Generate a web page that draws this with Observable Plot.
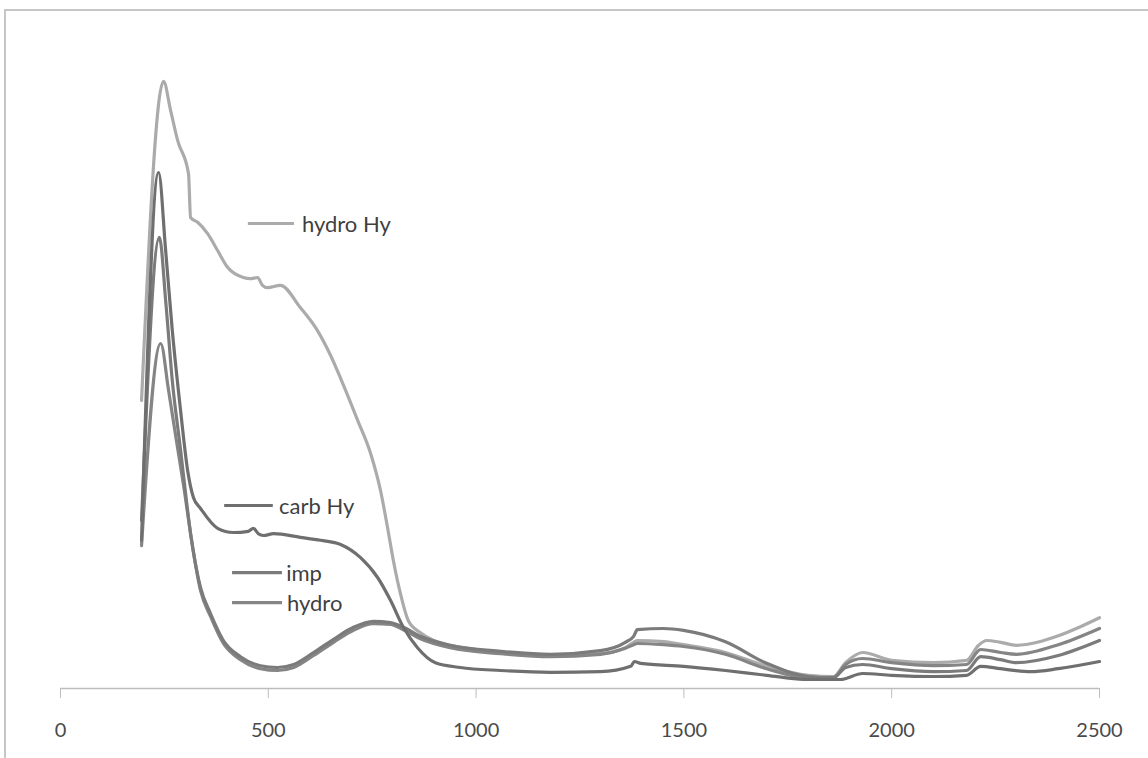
<!DOCTYPE html>
<html><head><meta charset="utf-8">
<script src="https://cdn.jsdelivr.net/npm/d3@7"></script>
<script src="https://cdn.jsdelivr.net/npm/@observablehq/plot@0.6"></script>
<style>
html,body{margin:0;padding:0;background:#fff;}
#wrap{position:relative;width:1148px;height:758px;overflow:hidden;background:#fff;}
#frame{position:absolute;left:4px;top:9px;width:1160px;height:770px;border-top:2px solid #c6c6c6;border-left:2px solid #c6c6c6;}
#chart{position:absolute;left:0;top:0;}
</style></head><body>
<div id="wrap"><div id="frame"></div><div id="chart"></div></div>
<script>
// Wavelength (nm) and reflectance values
const hydroHyWl = [195,248,265,282,308,313,330,354,378,402,440,457,474,486,498,529,577,618,650,674,715,746,770,787,801,818,837,866,898,979,1100,1179,1299,1359,1379,1388,1451,1499,1600,1699,1800,1860,1889,1930,2000,2100,2180,2209,2228,2262,2300,2401,2454,2500];
const hydroHyVal = [48.0,101.2,96.3,91.3,85.8,78.5,77.7,75.8,73.0,70.2,68.5,68.3,68.5,67.2,66.8,67.2,63.5,59.7,55.5,51.7,44.7,39.2,33.0,26.8,21.3,15.8,11.3,9.3,8.0,6.7,5.8,5.5,5.8,6.8,7.7,8.0,7.8,7.3,6.0,3.7,2.2,2.0,4.3,6.0,4.7,4.3,4.7,7.2,8.0,7.7,7.2,8.8,10.3,11.8];

const carbHyWl = [195,236,253,269,289,306,320,337,378,416,452,464,476,488,513,577,626,674,722,763,794,825,859,902,962,1059,1179,1299,1372,1381,1396,1499,1600,1699,1800,1877,1930,2000,2100,2180,2214,2262,2334,2401,2500];
const carbHyVal = [24.7,86.0,73.0,59.7,46.3,36.3,31.8,30.0,26.7,26.0,26.2,26.7,25.8,25.5,25.8,25.2,24.7,24.0,21.8,18.5,14.7,10.2,6.8,4.3,3.5,3.0,2.7,2.8,3.7,4.5,4.2,3.7,3.0,2.2,1.5,1.5,2.5,2.2,2.0,2.2,3.7,3.3,2.8,3.3,4.5];

const impWl = [195,238,253,269,289,303,313,337,361,392,433,481,522,561,609,657,705,753,794,825,866,938,1059,1179,1299,1359,1379,1388,1451,1499,1600,1699,1800,1860,1889,1930,2000,2100,2180,2214,2262,2300,2401,2500];
const impVal = [28.0,75.2,64.7,51.3,39.7,31.3,25.8,16.8,12.5,8.0,5.3,3.8,3.5,4.0,6.0,8.2,10.2,11.2,11.0,10.2,8.7,7.2,6.2,5.7,6.3,7.7,8.7,9.8,10.0,9.7,7.8,4.2,2.0,1.8,3.5,4.0,3.3,2.8,3.0,5.3,4.8,4.3,5.5,8.0];

const hydroWl = [195,241,260,279,298,313,337,361,392,433,481,522,561,609,657,705,753,794,825,866,938,1059,1179,1299,1359,1379,1388,1451,1499,1600,1699,1800,1860,1889,1930,2000,2100,2180,2214,2262,2300,2401,2500];
const hydroVal = [23.8,57.5,49.7,41.3,33.0,25.8,16.3,12.0,7.5,4.8,3.3,3.0,3.5,5.5,7.7,9.7,10.8,10.7,9.8,8.3,6.8,5.8,5.3,5.7,6.7,7.3,7.5,7.3,7.0,5.7,3.3,1.8,1.8,4.0,5.0,4.3,3.8,4.0,6.5,6.0,5.7,7.3,10.0];

const seriesNames = ["hydro Hy", "hydro", "imp", "carb Hy"];
const xTicks = [0, 500, 1000, 1500, 2000, 2500];

// Styling / annotation placement (kept separate from data)
const seriesColors = {"hydro Hy": "#ababab", "hydro": "#858585", "imp": "#7b7b7b", "carb Hy": "#6f6f6f"};
const labelAnchors = [
  {name: "hydro Hy", x1: 452, x2: 563, tx: 581, y: 77.5},
  {name: "carb Hy", x1: 395, x2: 512, tx: 526, y: 30.5},
  {name: "imp", x1: 414, x2: 534, tx: 543, y: 19.3},
  {name: "hydro", x1: 414, x2: 534, tx: 545, y: 14.3}
];

const sources = {
  "hydro Hy": [hydroHyWl, hydroHyVal],
  "hydro": [hydroWl, hydroVal],
  "imp": [impWl, impVal],
  "carb Hy": [carbHyWl, carbHyVal]
};
const rowsFor = name => sources[name][0].map((w, i) => ({name, wl: w, val: sources[name][1][i]}));

const chart = Plot.plot({
  width: 1148,
  height: 758,
  marginLeft: 60,
  marginRight: 49,
  marginTop: 28,
  marginBottom: 70,
  style: {fontFamily: "Lato, 'Open Sans', sans-serif", background: "transparent"},
  x: {domain: [0, 2500]},
  y: {domain: [0, 110], axis: null},
  marks: [
    Plot.ruleY([0], {stroke: "#bdbdbd", strokeWidth: 1.5}),
    Plot.axisX({ticks: xTicks, tickSize: 10, tickPadding: 24, stroke: "#bdbdbd", fill: "#4a4a4a", fontSize: 20, tickFormat: d => String(d), label: null}),
    ...seriesNames.map(n => Plot.line(rowsFor(n), {x: "wl", y: "val", stroke: seriesColors[n], strokeWidth: 3.2, curve: "monotone-x", strokeLinejoin: "round"})),
    ...labelAnchors.map(l => Plot.ruleY([l], {y: "y", x1: "x1", x2: "x2", stroke: seriesColors[l.name], strokeWidth: 3.2})),
    Plot.text(labelAnchors, {x: "tx", y: "y", text: "name", textAnchor: "start", fill: "#3f3f3f", fontSize: 22, dy: 1})
  ]
});
document.getElementById("chart").appendChild(chart);
</script>
</body></html>
